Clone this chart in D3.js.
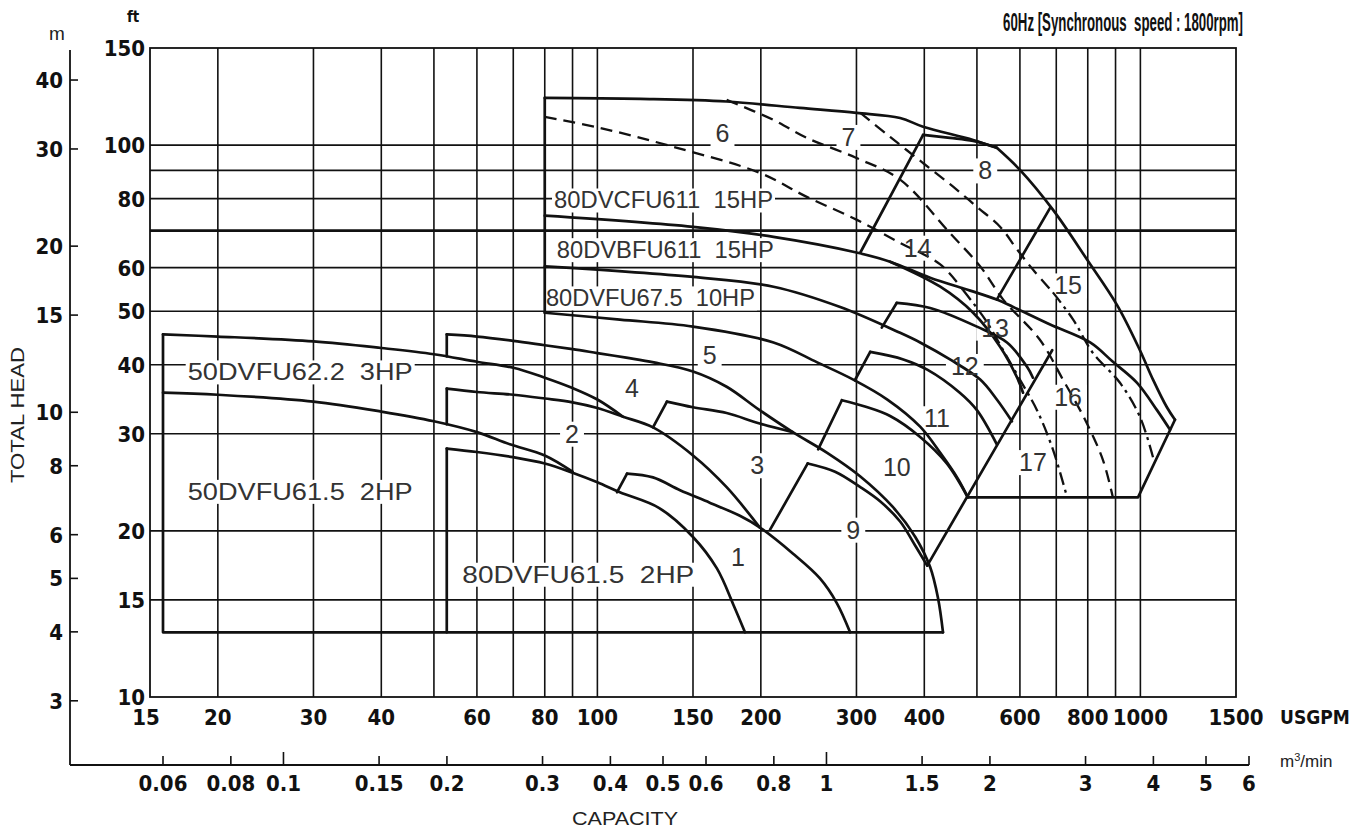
<!DOCTYPE html>
<html><head><meta charset="utf-8">
<script src="https://cdn.jsdelivr.net/npm/d3@7"></script>
<style>
body{margin:0;background:#fff;}
svg{display:block;}
text{white-space:pre;}
</style></head><body>
<svg id="chart" width="1367" height="833"></svg>
<script>
// ---------------- axis values ----------------
const gpmTickLabels = [15,20,30,40,60,80,100,150,200,300,400,600,800,1000,1500];
const gpmGrid = [20,30,40,50,60,70,80,90,100,150,200,300,400,500,600,700,800,900,1000];
const ftTickLabels = [10,15,20,30,40,50,60,80,100,150];
const ftGrid = [15,20,30,40,50,60,70,80,90,100];
const mTicks = [3,4,5,6,8,10,15,20,30,40];
const m3Ticks = [0.06,0.08,0.1,0.15,0.2,0.3,0.4,0.5,0.6,0.8,1,1.5,2,3,4,5,6];

// ---------------- curves  [USGPM, ft] ----------------
const base50 = [[15.85,45.4],[15.85,13.1],[433,13.1]];
const curve50_3HP = [[15.85,45.4],[20,45.0],[30,44.1],[40,42.9],[50,41.8],[60,40.5],[70,39.5],[80,37.9],[90,36.3],[100,34.6],[111.5,32.2]];
const curve50_2HP = [[15.85,35.6],[20,35.3],[30,34.3],[40,32.9],[50,31.6],[60,30.2],[69,28.7],[80,27.4],[90,25.6]];
const edge80a = [[52.8,45.4],[52.8,41.4]];
const edge80b = [[52.8,36.2],[52.8,31.2]];
const edge80c = [[52.8,28.2],[52.8,13.1]];
const curveT1 = [[52.8,45.4],[60,45.0],[70,44.2],[80,43.4],[90,42.7],[100,42.0],[113,41.2],[127,40.4],[150,38.9],[173,36.5],[199,33.1],[229,30.2],[265,27.7],[305,25.1],[350,22.1],[385,19.5],[410,17.2],[424,15.1],[433,13.1]];
const curveT2 = [[52.8,36.2],[60,35.7],[70,35.3],[80,34.75],[90,34.2],[100,33.4],[111.5,32.2],[126.6,30.8],[150,27.4],[173,24.0],[199,20.3]];
const curveT3 = [[52.8,28.2],[60,27.8],[70,27.2],[80,26.5],[90,25.5],[100,24.5],[110,23.5],[130,22.0],[150,19.5],[166,17.1],[178,14.7],[187,13.1]];
const step1 = [[108.7,23.5],[113.4,25.4]];
const curve1 = [[113.4,25.4],[126.6,25.0],[142,23.7],[161,22.5],[183,21.3],[199,20.3],[229,18.2],[257,16.4],[276,14.8],[292,13.1]];
const step4 = [[126.6,30.8],[134.3,34.3]];
const curve4 = [[134.3,34.3],[150,33.5],[173,32.7],[199,31.3],[229,30.2]];
const step9 = [[208,20.1],[244,26.5]];
const curve9 = [[244,26.5],[274,25.6],[305,24.0],[332,22.6],[361,20.8],[385,18.8],[405,17.3]];
const step10 = [[255,28.1],[282,34.5]];
const curve10 = [[282,34.5],[311,33.6],[346,32.3],[393,29.6],[440,26.5],[481,23.0]];
const curve10HP = [[80,49.7],[110,48.3],[150,46.9],[211,43.9],[254,40.4],[296,37.6],[342,34.6],[393,30.9],[428,27.7],[462,24.8],[481,23.0]];
const step11 = [[298,37.5],[318,42.2]];
const curve11 = [[318,42.2],[366,40.9],[405,39.2],[465,35.6],[500,33.1],[544,28.7]];
const step12 = [[334,46.7],[356,51.8]];
const curve12 = [[356,51.8],[410,50.7],[500,46.9],[568,43.9],[618,39.7],[634,37.9]];
const curveK2 = [[80,60.3],[150,57.7],[211,55.4],[280,50.9],[361,45.7],[393,43.9],[446,40.9],[507,37.6],[544,34.6],[580,31.6]];
const curveK1 = [[80,74.5],[150,71.1],[211,68.2],[300,63.9],[346,61.5],[410,57.5],[486,54.5],[544,52.5],[583,50.9],[682,47.3],[808,43.9],[890,40.5],[986,37.1],[1073,33.1],[1134,30.5]];
const curveSa = [[346,61.5],[428,55.4],[492,49.7],[552,43.1],[593,37.9],[608,35.6]];
const topA = [[80,121.8],[120,121.3],[173,120],[236,116.8],[300,114.4],[361,112.0],[398,108.0],[492,102.2],[544,98.9]];
const topB = [[544,98.9],[600,90.2],[690,76.4],[798,62.0],[906,51.3],[998,42.5],[1055,37.6],[1119,33.5],[1158,31.8]];
const edge80top = [[80,121.8],[80,49.7]];
const rightEdge = [[1158,31.8],[990,23.0],[481,23.0]];
const diag1 = [[405,17.3],[688,42.5]];
const diag2 = [[305,63.9],[398,104.4]];
const curve7top = [[398,104.4],[446,103.1],[492,101.8],[544,98.9]];
const diag3 = [[544,52.5],[682,77.0]];
const dash6a = [[80,112.5],[101,107.5],[138,99.3],[199,89.1],[243,80.6],[300,73.3],[361,66.5],[428,60.8],[471,54.7]];
const dash6b = [[471,54.7],[518,48.3],[559,42.5],[600,37.6],[645,33.1],[690,28.1],[733,23.0]];
const dash7 = [[173,120.8],[211,111.1],[243,103.1],[300,94.8],[361,86.6],[446,69.3],[507,60.3],[559,52.5],[653,44.4],[720,37.6],[791,31.8],[853,26.9],[890,23.0]];
const dash8a = [[305,114.4],[346,103.5],[398,92.8],[452,84.1],[500,77.3],[552,71.1],[593,64.7],[634,59.5],[690,54.1]];
const dash8b = [[690,54.1],[752,48.3],[818,42.0],[917,37.1],[998,32.2],[1055,27.2]];

// ---------------- labels [text, USGPM, ft] ----------------
const regionNumbers = [["1",181.5,17.9],["2",89.8,30.0],["3",197,26.3],["4",115.8,36.3],["5",161,41.7],["6",170,105],["7",290,103.5],["8",518,90],["9",296,20.1],["10",356,26.1],["11",422,32.0],["12",475,39.8],["13",540,46.7],["14",389,65.2],["15",736,55.7],["16",736,35.0],["17",634,26.65]];
const modelLabels = [["50DVFU62.2  3HP",17.6,38.85,225],["50DVFU61.5  2HP",17.6,23.6,225],["80DVFU61.5  2HP",56.4,16.7,232],["80DVCFU611  15HP",83.2,79.6,219],["80DVBFU611  15HP",84.2,64.7,217],["80DVFU67.5  10HP",80.4,52.9,209]];

// ---------------- scales ----------------
const x = d3.scaleLog().domain([15,1500]).range([150,1236]);
const y = d3.scaleLog().domain([10,150]).range([697,48]);
const GPM_PER_M3 = 264.172, FT_PER_M = 3.28084;

const svg = d3.select('#chart');
const condensed = "'Liberation Sans Narrow','DejaVu Sans Condensed',sans-serif";
const sans = "'Liberation Sans',Arial,Helvetica,sans-serif";

// grid
const g = svg.append('g').attr('stroke','#111').attr('fill','none');
gpmGrid.forEach(v=>g.append('line').attr('x1',x(v)).attr('x2',x(v)).attr('y1',y(10)).attr('y2',y(150)).attr('stroke-width',1.6));
ftGrid.forEach(v=>g.append('line').attr('x1',x(15)).attr('x2',x(1500)).attr('y1',y(v)).attr('y2',y(v)).attr('stroke-width',v===70?2.8:1.6));
g.append('rect').attr('x',x(15)).attr('y',y(150)).attr('width',x(1500)-x(15)).attr('height',y(10)-y(150)).attr('stroke-width',1.8);

// ft tick labels
const ax = svg.append('g').attr('fill','#111').style('font-family',condensed).style('font-weight','bold').style('font-size','22px');
ftTickLabels.forEach(v=>ax.append('text').attr('x',x(15)-5).attr('y',y(v)).attr('dy','0.36em').attr('text-anchor','end').text(v));
gpmTickLabels.forEach(v=>ax.append('text').attr('x',x(v)-(v===15?4:0)).attr('y',y(10)+20).attr('dy','0.36em').attr('text-anchor','middle').text(v));
ax.append('text').attr('x',1280).attr('y',y(10)+20).attr('dy','0.36em').style('font-size','19px').text('USGPM');
ax.append('text').attr('x',x(15)-23).attr('y',22).style('font-size','15px').text('ft');

// m axis
const mx = 70;
svg.append('line').attr('x1',mx).attr('x2',mx).attr('y1',50).attr('y2',765).attr('stroke','#111').attr('stroke-width',1.8);
mTicks.forEach(v=>{
  const yy=y(v*FT_PER_M);
  svg.append('line').attr('x1',mx).attr('x2',mx+8).attr('y1',yy).attr('y2',yy).attr('stroke','#111').attr('stroke-width',1.6);
  ax.append('text').attr('x',mx-7).attr('y',yy).attr('dy','0.36em').attr('text-anchor','end').text(v);
});
svg.append('text').attr('x',57).attr('y',40).attr('text-anchor','middle').style('font-family',sans).style('font-size','19px').attr('fill','#222').text('m');

// m3/min axis
const my = 765;
svg.append('line').attr('x1',mx).attr('x2',x(6*GPM_PER_M3)).attr('y1',my).attr('y2',my).attr('stroke','#111').attr('stroke-width',1.8);
m3Ticks.forEach(v=>{
  const xx=x(v*GPM_PER_M3);
  const len=(v===0.1||v===1)?13:9;
  svg.append('line').attr('x1',xx).attr('x2',xx).attr('y1',my).attr('y2',my-len).attr('stroke','#111').attr('stroke-width',1.6);
  ax.append('text').attr('x',xx).attr('y',my+18).attr('dy','0.36em').attr('text-anchor','middle').text(v);
});
svg.append('text').attr('x',1280).attr('y',767).style('font-family',sans).style('font-size','17px').attr('fill','#222').html('m<tspan dy="-6" font-size="11">3</tspan><tspan dy="6">/min</tspan>');

// axis titles
svg.append('text').attr('transform','translate(24,415) rotate(-90)').attr('text-anchor','middle').style('font-family',sans).style('font-size','18px').attr('fill','#222').attr('textLength',136).attr('lengthAdjust','spacingAndGlyphs').text('TOTAL HEAD');
svg.append('text').attr('x',625).attr('y',825).attr('text-anchor','middle').style('font-family',sans).style('font-size','19px').attr('fill','#222').attr('textLength',106).attr('lengthAdjust','spacingAndGlyphs').text('CAPACITY');
const title = svg.append('text').attr('text-anchor','end').style('font-family',sans).style('font-size','26px').style('font-weight','bold').attr('fill','#111').text('60Hz [Synchronous  speed : 1800rpm]');
const tw = title.node().getComputedTextLength();
title.attr('transform',`translate(1243,31) scale(${240/tw},1)`);

// label backgrounds + text
const bgLayer = svg.append('g');
const curveLayer = svg.append('g').attr('fill','none').attr('stroke','#111').attr('stroke-linejoin','round').attr('stroke-linecap','round');
const textLayer = svg.append('g');

function addLabel(t,q,h,opts){
  const tx = textLayer.append('text').attr('x',x(q)).attr('y',y(h)).attr('dy','0.36em')
    .attr('text-anchor',opts.anchor).style('font-family',sans).style('font-size',opts.size+'px').attr('fill','#333').text(t);
  if(opts.len) tx.attr('textLength',opts.len).attr('lengthAdjust','spacingAndGlyphs');
  const b = tx.node().getBBox();
  bgLayer.append('rect').attr('x',b.x-opts.pad).attr('y',b.y+2).attr('width',b.width+2*opts.pad).attr('height',b.height-3).attr('fill','#fff');
}
regionNumbers.forEach(d=>addLabel(d[0],d[1],d[2],{anchor:'middle',size:25,pad:5}));
modelLabels.forEach(d=>addLabel(d[0],d[1],d[2],{anchor:'start',size:24,pad:2,len:d[3]}));

// curves
const smooth = d3.line().x(d=>x(d[0])).y(d=>y(d[1])).curve(d3.curveCatmullRom.alpha(0.5));
const straight = d3.line().x(d=>x(d[0])).y(d=>y(d[1]));
const solidSmooth = [curve50_3HP,curve50_2HP,curveT1,curveT2,curveT3,curve1,curve4,curve9,curve10,curve10HP,curve11,curve12,curveK2,curveK1,curveSa,topA,topB,curve7top];
const solidStraight = [base50,edge80a,edge80b,edge80c,step1,step4,step9,step10,step11,step12,edge80top,rightEdge,diag1,diag2,diag3];
solidSmooth.forEach(c=>curveLayer.append('path').attr('d',smooth(c)).attr('stroke-width',2.7));
solidStraight.forEach(c=>curveLayer.append('path').attr('d',straight(c)).attr('stroke-width',2.7));
[dash6a,dash7,dash8a].forEach(c=>curveLayer.append('path').attr('d',smooth(c)).attr('stroke-width',2.3).attr('stroke-dasharray','12,7').attr('stroke-linecap','butt'));
[dash6b,dash8b].forEach(c=>curveLayer.append('path').attr('d',smooth(c)).attr('stroke-width',2.3).attr('stroke-dasharray','13,5,3,5').attr('stroke-linecap','butt'));
</script></body></html>
